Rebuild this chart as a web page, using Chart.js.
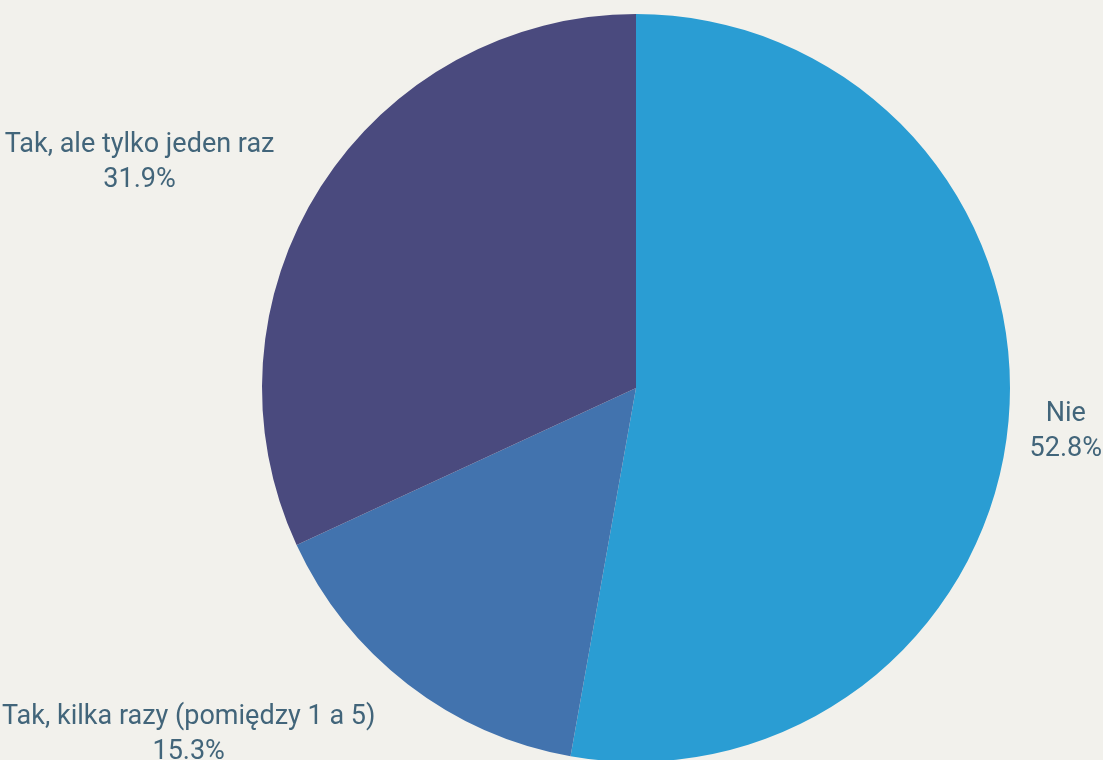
<!DOCTYPE html>
<html>
<head>
<meta charset="utf-8">
<script src="https://cdn.jsdelivr.net/npm/chart.js@4.4.1/dist/chart.umd.min.js"></script>
<style>
    html, body { margin: 0; padding: 0; background: #f2f1ec; overflow: hidden; }
    #wrap { width: 1103px; height: 770px; position: relative; }
</style>
</head>
<body>
<div id="wrap"><canvas id="pieChart"></canvas></div>
<script>
// Odpowiedzi na pytanie (wartości w %)
const categories = ['Nie', 'Tak, kilka razy (pomiędzy 1 a 5)', 'Tak, ale tylko jeden raz'];
const values = [52.8, 15.3, 31.9];
const sliceColors = ['#2a9dd3', '#4273ae', '#4a4a7e'];

// etykiety na zewnątrz koła
const outsideLabels = {
    id: 'outsideLabels',
    afterDatasetsDraw(chart) {
        const ctx = chart.ctx;
        const meta = chart.getDatasetMeta(0);
        const fontSize = 27;
        const lineH = 35;
        const gapX = 55, gapY = 21;
        ctx.save();
        ctx.font = fontSize + 'px Roboto, "Open Sans", sans-serif';
        ctx.fillStyle = '#42657a';
        ctx.textAlign = 'center';
        ctx.textBaseline = 'middle';
        meta.data.forEach((arc, i) => {
            const p = arc.getProps(['x', 'y', 'startAngle', 'endAngle', 'outerRadius']);
            const mid = (p.startAngle + p.endAngle) / 2;
            const cos = Math.cos(mid), sin = Math.sin(mid);
            const lines = [categories[i], values[i].toFixed(1) + '%'];
            const w = Math.max(...lines.map(l => ctx.measureText(l).width));
            const h = lineH * lines.length;
            let cx = p.x + cos * (p.outerRadius + gapX) + Math.sign(cos) * w / 2;
            const cy = p.y + sin * (p.outerRadius + gapY + h / 2) + 6;
            // nie wychodź poza płótno w poziomie
            cx = Math.min(Math.max(cx, w / 2 + 2), chart.width - w / 2 - 1);
            lines.forEach((l, j) => {
                ctx.fillText(l, cx, cy - h / 2 + lineH * (j + 0.5));
            });
        });
        ctx.restore();
    }
};

new Chart(document.getElementById('pieChart'), {
    type: 'pie',
    data: {
        labels: categories,
        datasets: [{
            data: values,
            backgroundColor: sliceColors,
            borderWidth: 0
        }]
    },
    options: {
        responsive: true,
        maintainAspectRatio: false,
        animation: false,
        layout: {
            padding: { top: 14, bottom: 8, left: 262, right: 93 }
        },
        plugins: {
            legend: { display: false },
            tooltip: { enabled: false }
        }
    },
    plugins: [outsideLabels]
});
</script>
</body>
</html>
